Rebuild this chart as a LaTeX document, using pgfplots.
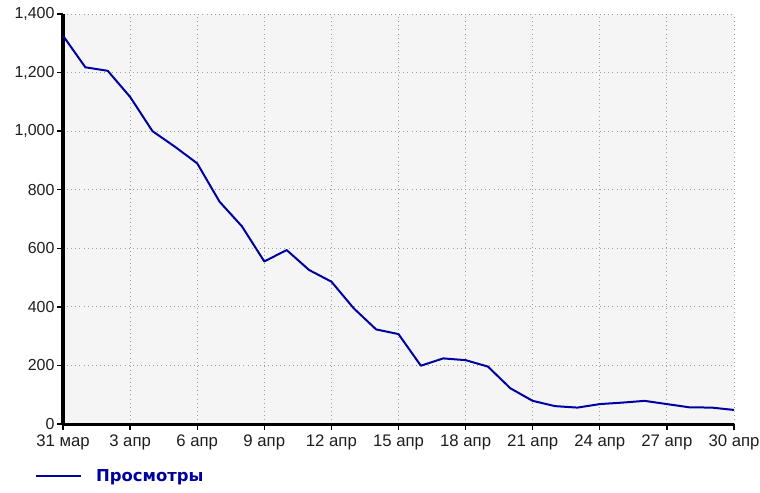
\documentclass[border=0pt]{standalone}
\usepackage{pgfplots}
\pgfplotsset{compat=1.18}
\usepackage{fontspec}
\setmainfont{Liberation Sans}
\newfontfamily\legfont{DejaVu Sans}
\definecolor{lineblue}{RGB}{0,0,160}
\definecolor{plotbg}{RGB}{245,245,245}
\definecolor{ticktext}{RGB}{30,30,30}
\begin{document}
\begin{tikzpicture}
\begin{axis}[
  scale only axis,
  width=671bp, height=410bp,
  xmin=0, xmax=30, ymin=0, ymax=1400,
  axis background/.style={fill=plotbg},
  axis x line*=bottom, axis y line*=left,
  axis line style={line width=3bp, black, -},
  every outer x axis line/.append style={line width=3bp},
  every outer y axis line/.append style={line width=3bp},
  every inner x axis line/.append style={line width=3bp},
  every inner y axis line/.append style={line width=3bp},
  xtick={0,3,...,30},
  xticklabels={31 мар,3 апр,6 апр,9 апр,12 апр,15 апр,18 апр,21 апр,24 апр,27 апр,30 апр},
  ytick={0,200,...,1400},
  tick align=outside,
  major tick length=6bp,
  tick style={line width=1.3bp, black},
  grid=major,
  major grid style={gray!75, line width=0.9bp, dash pattern=on 0.9bp off 3.2bp},
  /pgf/number format/.cd, 1000 sep={,}, assume math mode=true,
  /pgfplots/.cd,
  ticklabel style={font=\fontsize{16}{19}\selectfont, text=ticktext},
  xticklabel style={yshift=-1bp, font=\fontsize{16.8}{19}\selectfont},
  yticklabel style={xshift=1bp},
  clip=false,
  legend style={draw=none, fill=none, at={(-0.042,-0.127)}, anchor=west,
    inner sep=0pt, font=\legfont\fontsize{16.5}{19}\selectfont\bfseries, text=lineblue},
  legend cell align=left,
  legend image code/.code={\draw[#1] (0bp,0bp) -- (45bp,0bp);},
  legend style={nodes={inner xsep=0pt}, /tikz/every odd column/.append style={column sep=14bp}},
]
\addplot[lineblue, line width=2bp, line join=round] coordinates {
(0,1326) (1,1218) (2,1206) (3,1117) (4,1000) (5,947) (6,890) (7,759) (8,675)
(9,555) (10,594) (11,526) (12,486) (13,395) (14,323) (15,307) (16,199) (17,224)
(18,218) (19,196) (20,122) (21,79) (22,61) (23,56) (24,68) (25,73) (26,79)
(27,68) (28,57) (29,56) (30,48)
};
\addlegendentry{Просмотры}
\end{axis}
\pgfresetboundingbox
\path ([xshift=-63bp,yshift=-69bp]current axis.south west) rectangle ([xshift=26bp,yshift=14bp]current axis.north east);
\end{tikzpicture}
\end{document}
